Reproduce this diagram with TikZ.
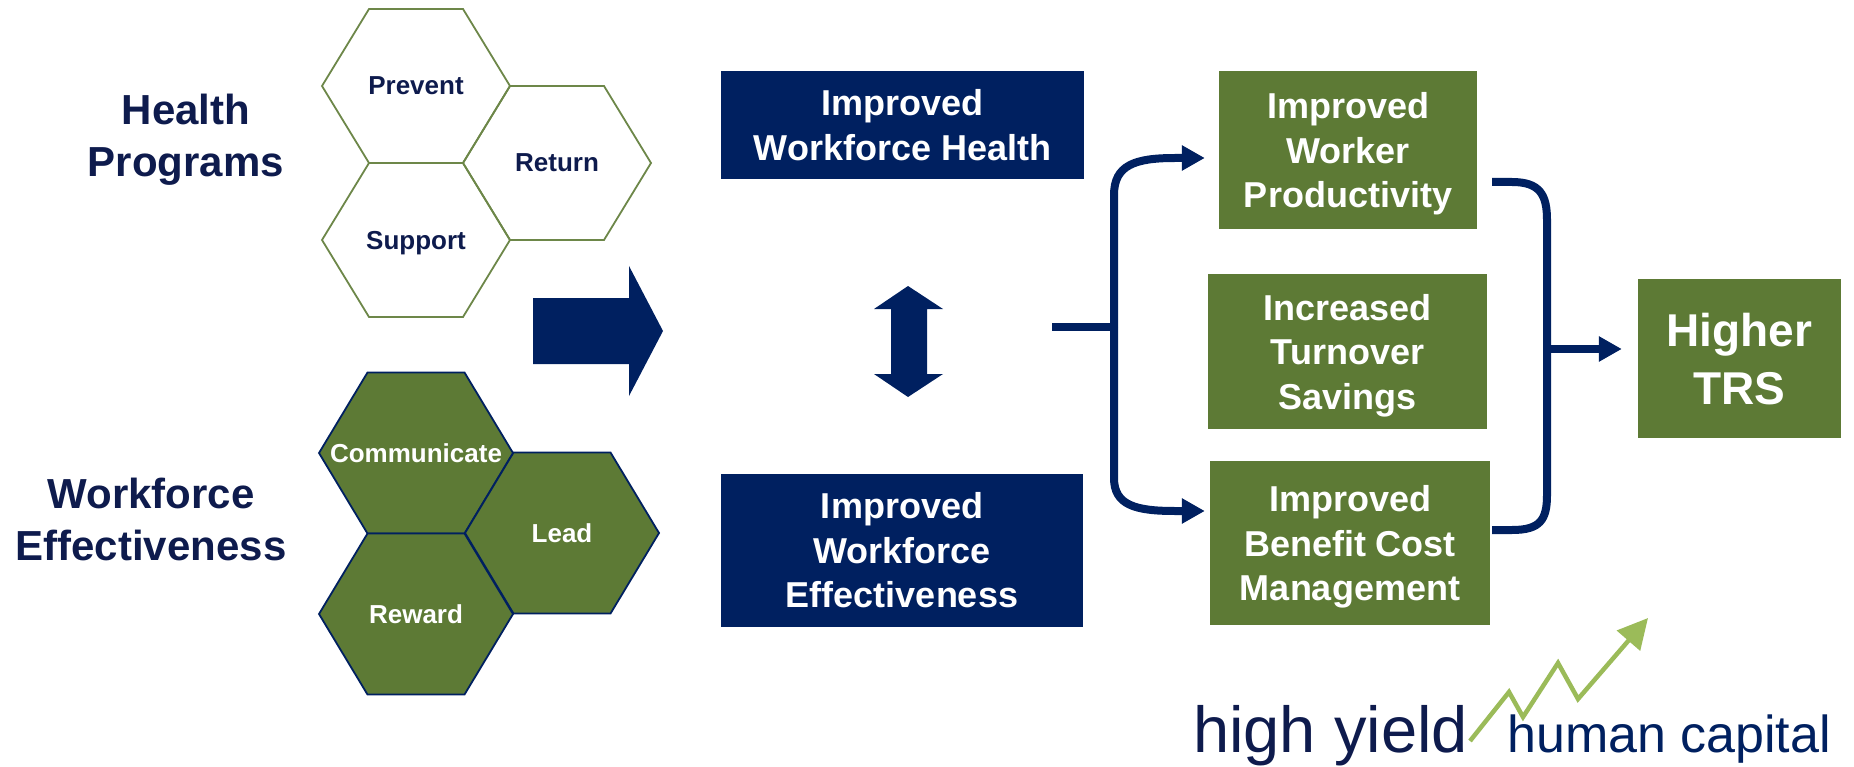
\documentclass[tikz,border=0pt]{standalone}
\usepackage{fontspec}
\setmainfont{Liberation Sans}
\usetikzlibrary{arrows.meta,calc}

\definecolor{navy}{HTML}{002060}
\definecolor{ink}{HTML}{0E1B4D}
\definecolor{olive}{HTML}{5D7A35}
\definecolor{leaf}{HTML}{9BBB59}

\tikzset{
  health cell/.style={draw=olive!90!white, line width=1.8pt},
  health label/.style={text=ink, font=\bfseries\fontsize{26}{30}\selectfont, inner sep=0pt, text depth=0pt},
  effect cell/.style={fill=olive, draw=navy, line width=1.8pt},
  effect label/.style={text=white, font=\bfseries\fontsize{26}{30}\selectfont, inner sep=0pt, text depth=0pt},
  sidelabel/.style={text=ink, font=\bfseries\fontsize{42}{52}\selectfont, align=center, inner sep=0pt},
  navybox/.style={fill=navy, text=white, font=\bfseries\fontsize{36}{44.5}\selectfont, align=center, inner sep=0pt},
  olivebox/.style={fill=olive, text=white, font=\bfseries\fontsize{36}{44.5}\selectfont, align=center, inner sep=0pt, text depth=0pt},
  flow/.style={draw=navy, line width=8pt},
  flowarrow/.style={flow, -{Triangle[length=23pt,width=24pt]}},
}

% hexagon: name, centre, half width, half height, kind, text
\newcommand{\hexcell}[6]{%
  \draw[#5 cell] ($(#2)+(-#3,0)$) -- ++(#3/2,-#4) -- ++(#3,0) -- ++(#3/2,#4)
    -- ++(-#3/2,#4) -- ++(-#3,0) -- cycle;
  \node[#5 label] (#1) at (#2) {#6};}

\begin{document}
\begin{tikzpicture}[x=1pt,y=-1pt]
            \useasboundingbox (0,0) rectangle (1854,767);

            \node[sidelabel] (health) at (186,140) {Health\\Programs};
            \node[sidelabel] (workforce) at (151,519) {Workforce\\Effectiveness};

            \hexcell{prevent}{416,86}{94}{77}{health}{Prevent}
            \hexcell{return}{557,163}{94}{77}{health}{Return}
            \hexcell{support}{416,240}{94}{77}{health}{Support}

            \hexcell{communicate}{416,453}{97}{80.5}{effect}{Communicate}
            \hexcell{lead}{562,533}{97}{80.5}{effect}{Lead}
            \hexcell{reward}{416,614}{97}{80.5}{effect}{Reward}

            % block arrows
            \fill[navy] (533,298) -- (629,298) -- (629,266) -- (663,331) -- (629,396)
                -- (629,364) -- (533,364) -- cycle;
            \fill[navy] (908,286) -- (943,309) -- (927,309) -- (927,374) -- (943,374)
                -- (908,397) -- (874,374) -- (891,374) -- (891,309) -- (874,309) -- cycle;

            \node[navybox, minimum width=363pt, minimum height=108pt] (wh) at (902.5,125) {Improved\\Workforce Health};
            \node[navybox, minimum width=362pt, minimum height=153pt] (we) at (902,550.5) {Improved\\Workforce\\Effectiveness};

            \node[olivebox, minimum width=258pt, minimum height=158pt] (wp) at (1348,150) {Improved\\Worker\\Productivity};
            \node[olivebox, minimum width=279pt, minimum height=155pt] (ts) at (1347.5,351.5) {Increased\\Turnover\\Savings};
            \node[olivebox, minimum width=280pt, minimum height=164pt] (bc) at (1350,543) {Improved\\Benefit Cost\\Management};
            \node[olivebox, font=\bfseries\fontsize{46}{58}\selectfont, minimum width=203pt, minimum height=159pt] (trs) at (1739.5,358.5) {Higher\\TRS};

            % left bracket
            \coordinate (split) at (1052,327);
            \coordinate (fork) at (1114,327);
            \draw[flow] (split) -- (fork);
            \draw[flowarrow] (fork) -- (1114,195) .. controls (1114,165) and (1135,158) .. (1175,158)
                -- ($(wp.west)+(-14,8)$);
            \draw[flowarrow] (fork) -- (1114,478) .. controls (1114,505) and (1135,511) .. (1175,511)
                -- ($(bc.west)+(-5,-32)$);

            % right bracket
            \coordinate (join) at (1547,349);
            \draw[flow] ($(wp.east)+(15,32)$) -- (1512,182) .. controls (1540,182) and (1547,195) .. (1547,220)
                -- (1547,495) .. controls (1547,520) and (1540,530) .. (1512,530) -- ($(bc.east)+(2,-13)$);
            \draw[flowarrow] (join) -- ($(trs.west)+(-16,-9.5)$);

            % logo
            \node[anchor=base west, inner sep=0pt, text=ink, font=\fontsize{65}{65}\selectfont] (high) at (1193,752) {high yield};
            \node[anchor=base west, inner sep=0pt, text=navy, font=\fontsize{52}{52}\selectfont] (human) at (1507,752) {human capital};
            \draw[leaf, line width=4.5pt, -{Triangle[length=30pt,width=30pt]}] (1470,741) -- (1509,692) -- (1523,717)
                -- (1558,663) -- (1578,699) -- (1648,618);
\end{tikzpicture}
\end{document}
